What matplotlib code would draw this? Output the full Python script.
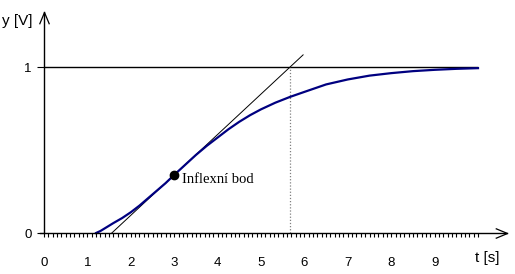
import numpy as np
import matplotlib
matplotlib.use('Agg')
import matplotlib.pyplot as plt

# přechodová charakteristika
t = [1.2, 1.3, 1.45, 1.6, 1.8, 2.0, 2.2, 2.4, 2.6, 2.8, 3.0, 3.25, 3.5, 3.75,
     4.0, 4.25, 4.5, 4.75, 5.0, 5.33, 5.67, 6.0, 6.5, 7.0, 7.5, 8.0, 8.5,
     9.0, 9.5, 10.0]
y = [0.0, 0.012, 0.036, 0.06, 0.09, 0.125, 0.165, 0.21, 0.255, 0.30, 0.35,
     0.41, 0.47, 0.525, 0.575, 0.625, 0.67, 0.71, 0.745, 0.785, 0.82, 0.85,
     0.895, 0.925, 0.948, 0.963, 0.975, 0.983, 0.989, 0.993]

t_infl, y_infl = 3.0, 0.35      # inflexní bod
t_cross = 5.67                   # tečna protne y = 1
t_tan_end = 5.97
y_final = 1.0
t_end = 10.0

xticks = list(range(10))
yticks = [0, 1]

slope = (y_final - y_infl) / (t_cross - t_infl)
t_tan0 = t_infl - y_infl / slope
tan_t = [t_tan0, t_tan_end]
tan_y = [0.0, y_infl + slope * (t_tan_end - t_infl)]

fig = plt.figure(figsize=(5.15, 2.74), dpi=100)
ax = fig.add_axes([0, 0, 1, 1])
ax.set_xlim(-44 / 43.4, (515 - 44) / 43.4)
ax.set_ylim(-(274 - 233) / 166, 233 / 166)

for s in ['top', 'right']:
    ax.spines[s].set_visible(False)
ax.spines['left'].set_position(('data', 0))
ax.spines['bottom'].set_position(('data', 0))
ax.spines['left'].set_bounds(0, 1.33)
ax.spines['bottom'].set_bounds(-0.1, 10.67)
for s in ['left', 'bottom']:
    ax.spines[s].set_linewidth(1.0)

# šipky os
v = [(-5, -12), (0, 0), (5, -12)]
h = [(-12, -5), (0, 0), (-12, 5)]
ax.plot([0], [1.33], marker=v, ms=17, mfc='none', mec='black', mew=0.9,
        clip_on=False)
ax.plot([10.67], [0], marker=h, ms=17, mfc='none', mec='black', mew=0.9,
        clip_on=False)

lab = dict(family='Liberation Sans', size=9.5)
ax.set_xticks(xticks)
ax.set_xticklabels([str(x) for x in xticks], **lab)
ax.set_xticks(np.arange(0, 10.01, 0.1), minor=True)
ax.tick_params(axis='x', which='both', direction='out', length=3, width=0.8,
               pad=14)
ax.set_yticks(yticks)
ax.set_yticklabels([str(v_) for v_ in yticks], **lab)
ax.tick_params(axis='y', direction='out', length=5, width=0.8, pad=4)

ax.hlines(y_final, 0, t_end, color='black', lw=1.0)
ax.vlines(t_cross, 0, y_final, color='gray', lw=0.9, ls=(0, (1, 1.5)))
ax.plot(tan_t, tan_y, color='black', lw=0.7)
ax.plot(t, y, color='#000080', lw=1.6)
ax.plot([t_infl], [y_infl], 'o', color='black', ms=6)

ax.text(t_infl + 0.17, y_infl - 0.03, 'Inflexní bod', family='Liberation Serif',
        size=10.5, va='center', ha='left')
ax.text(-0.97, 1.28, 'y [V]', family='Liberation Sans', size=11,
        va='center', ha='left')
ax.text(10.5, -0.15, 't [s]', family='Liberation Sans', size=11,
        va='center', ha='right')

fig.savefig('out.png', dpi=100)
